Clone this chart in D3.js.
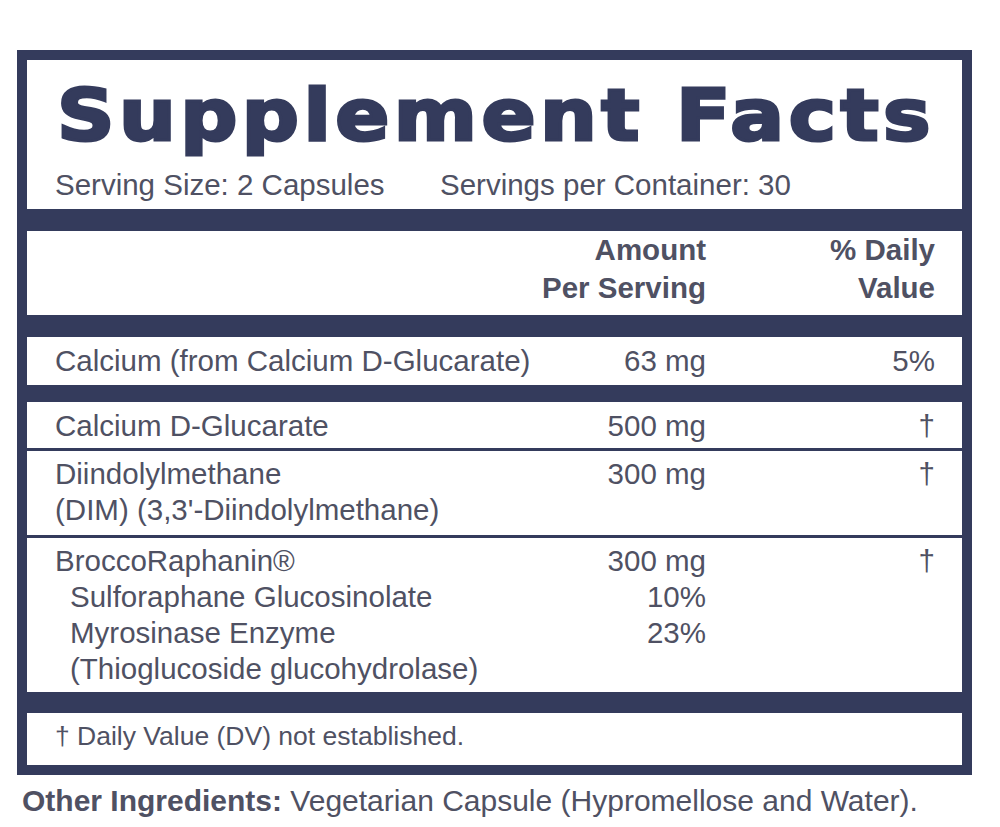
<!DOCTYPE html>
<html><head><meta charset="utf-8">
<script src="https://cdn.jsdelivr.net/npm/d3@7"></script>
<style>body{margin:0;background:#fff}text{font-family:"Liberation Sans",Arial,sans-serif}</style>
</head><body><svg id="c" width="1000" height="827"></svg>
<script>
var navy = "#343b5c", grey = "#4f5163";
var nutrients = ["Calcium (from Calcium D-Glucarate)", "Calcium D-Glucarate", "Diindolylmethane", "BroccoRaphanin®"];
var subLines = [[], [], ["(DIM) (3,3'-Diindolylmethane)"], [" Sulforaphane Glucosinolate", " Myrosinase Enzyme", " (Thioglucoside glucohydrolase)"]];
var amounts = [["63 mg"], ["500 mg"], ["300 mg"], ["300 mg", "10%", "23%"]];
var dailyValues = ["5%", "†", "†", "†"];
// row boxes [top, bottom]
var rowTops = [337, 402, 450, 537];
var rowBots = [385, 448, 535, 692];
var fs = 29.5;

var svg = d3.select("#c");
svg.append("rect").attr("x", 22).attr("y", 55).attr("width", 945).attr("height", 715)
  .attr("fill", "#fff").attr("stroke", navy).attr("stroke-width", 10);
// thick bars
[[209, 231], [315, 337], [385, 402], [692, 713]].forEach(function(b) {
  svg.append("rect").attr("x", 22).attr("y", b[0]).attr("width", 945).attr("height", b[1] - b[0]).attr("fill", navy);
});
// thin separators
[448, 535].forEach(function(y) {
  svg.append("rect").attr("x", 22).attr("y", y).attr("width", 945).attr("height", 3).attr("fill", navy);
});

svg.append("text").attr("x", 57).attr("y", 140).attr("font-size", 72).attr("font-weight", "bold")
  .style("font-family", "'DejaVu Sans'")
  .attr("fill", navy).attr("textLength", 878).attr("lengthAdjust", "spacingAndGlyphs")
  .style("stroke", navy).style("stroke-width", 3).style("letter-spacing", "4px").text("Supplement Facts");
svg.append("text").attr("x", 55).attr("y", 195).attr("font-size", fs).attr("fill", grey)
  .text("Serving Size: 2 Capsules");
svg.append("text").attr("x", 440).attr("y", 195).attr("font-size", fs).attr("fill", grey)
  .text("Servings per Container: 30");

var hdr = [["Amount", "Per Serving", 706], ["% Daily", "Value", 935]];
hdr.forEach(function(h) {
  svg.append("text").attr("x", h[2]).attr("y", 260).attr("text-anchor", "end").attr("font-size", fs)
    .attr("font-weight", "bold").attr("fill", grey).text(h[0]);
  svg.append("text").attr("x", h[2]).attr("y", 298).attr("text-anchor", "end").attr("font-size", fs)
    .attr("font-weight", "bold").attr("fill", grey).text(h[1]);
});

var lh = 36;
nutrients.forEach(function(n, i) {
  var y0 = rowTops[i] + 34;
  svg.append("text").attr("x", 55).attr("y", y0).attr("font-size", fs).attr("fill", grey).text(n);
  subLines[i].forEach(function(s, j) {
    svg.append("text").attr("x", s[0] === " " ? 70 : 55).attr("y", y0 + lh * (j + 1))
      .attr("font-size", fs).attr("fill", grey).text(s.trim());
  });
  amounts[i].forEach(function(a, j) {
    svg.append("text").attr("x", 706).attr("y", y0 + lh * j).attr("text-anchor", "end")
      .attr("font-size", fs).attr("fill", grey).text(a);
  });
  svg.append("text").attr("x", 935).attr("y", y0).attr("text-anchor", "end")
    .attr("font-size", fs).attr("fill", grey).text(dailyValues[i]);
});

svg.append("text").attr("x", 55).attr("y", 745).attr("font-size", 26.5).attr("fill", grey)
  .text("† Daily Value (DV) not established.");
var oi = svg.append("text").attr("x", 22).attr("y", 811).attr("font-size", 30).attr("fill", grey);
oi.append("tspan").attr("font-weight", "bold").text("Other Ingredients: ");
oi.append("tspan").text("Vegetarian Capsule (Hypromellose and Water).");
</script></body></html>
